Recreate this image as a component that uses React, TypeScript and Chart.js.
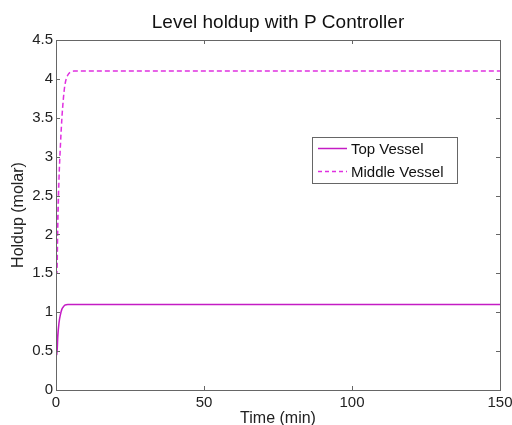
import React, { useEffect, useRef } from "react";
import { Chart, registerables } from "chart.js";
Chart.register(...registerables);

const titleText = "Level holdup with P Controller";
const xAxisLabel = "Time (min)";
const yAxisLabel = "Holdup (molar)";
const seriesNames = ["Top Vessel", "Middle Vessel"];

const topTimes = [0, 0.3, 0.6, 1, 1.5, 2, 2.5, 3, 4, 5, 7, 10, 150];
const topValues = [1.08, 0.45, 0.68, 0.86, 0.97, 1.04, 1.07, 1.09, 1.1, 1.1, 1.1, 1.1, 1.1];

const middleTimes = [0, 0.3, 0.6, 1, 1.5, 2, 2.5, 3, 4, 5, 6, 8, 150];
const middleValues = [4.0, 1.5, 2.1, 2.7, 3.15, 3.5, 3.75, 3.92, 4.05, 4.09, 4.1, 4.1, 4.1];

const xTicks = [0, 50, 100, 150];
const yTicks = [0, 0.5, 1, 1.5, 2, 2.5, 3, 3.5, 4, 4.5];

const topColor = "#c41cc4";
const middleColor = "#e030e0";
const fontFamily = "'Liberation Sans', Arial, sans-serif";

const framePlugin = {
  id: "frame",
  afterDraw(chart: any) {
    const { ctx, chartArea } = chart;
    const { left, right, top, bottom } = chartArea;
    const w = right - left;
    const h = bottom - top;
    ctx.save();
    // box
    ctx.strokeStyle = "#666";
    ctx.lineWidth = 1;
    ctx.strokeRect(left + 0.5, top + 0.5, w, h);
    // inward ticks
    const xs = chart.scales.x;
    const ys = chart.scales.y;
    ctx.beginPath();
    xTicks.forEach((v) => {
      const px = Math.round(xs.getPixelForValue(v)) + 0.5;
      ctx.moveTo(px, bottom);
      ctx.lineTo(px, bottom - 4);
      ctx.moveTo(px, top);
      ctx.lineTo(px, top + 4);
    });
    yTicks.forEach((v) => {
      const py = Math.round(ys.getPixelForValue(v)) + 0.5;
      ctx.moveTo(left, py);
      ctx.lineTo(left + 4, py);
      ctx.moveTo(right, py);
      ctx.lineTo(right - 4, py);
    });
    ctx.stroke();
    // title
    ctx.fillStyle = "#111";
    ctx.font = `19px ${fontFamily}`;
    ctx.textAlign = "center";
    ctx.textBaseline = "alphabetic";
    ctx.fillText(titleText, (left + right) / 2, 28);
    // axis titles
    ctx.fillStyle = "#222";
    ctx.font = `16px ${fontFamily}`;
    ctx.fillText(xAxisLabel, (left + right) / 2, 423);
    ctx.save();
    ctx.translate(23, (top + bottom) / 2);
    ctx.rotate(-Math.PI / 2);
    ctx.fillText(yAxisLabel, 0, 0);
    ctx.restore();
    // legend
    const bx = Math.round(left + w * 0.577);
    const by = Math.round(top + h * 0.277);
    const bw = Math.round(w * 0.327);
    const bh = Math.round(h * 0.131);
    ctx.fillStyle = "#fff";
    ctx.fillRect(bx, by, bw, bh);
    ctx.strokeStyle = "#666";
    ctx.strokeRect(bx + 0.5, by + 0.5, bw, bh);
    const rows = [
      { name: seriesNames[0], color: topColor, dash: [] as number[] },
      { name: seriesNames[1], color: middleColor, dash: [4, 3] },
    ];
    ctx.font = `15px ${fontFamily}`;
    ctx.textAlign = "left";
    ctx.textBaseline = "middle";
    rows.forEach((r, i) => {
      const cy = by + bh * (0.25 + i * 0.5);
      ctx.strokeStyle = r.color;
      ctx.lineWidth = 1.5;
      ctx.setLineDash(r.dash);
      ctx.beginPath();
      ctx.moveTo(bx + 6, cy);
      ctx.lineTo(bx + 35, cy);
      ctx.stroke();
      ctx.setLineDash([]);
      ctx.fillStyle = "#111";
      ctx.fillText(r.name, bx + 39, cy + 1);
    });
    ctx.restore();
  },
};

export default function App() {
  const ref = useRef<HTMLCanvasElement | null>(null);
  useEffect(() => {
    if (!ref.current) return;
    const chart = new Chart(ref.current, {
      type: "line",
      data: {
        datasets: [
          {
            label: seriesNames[0],
            data: topTimes.map((t, i) => ({ x: t, y: topValues[i] })),
            borderColor: topColor,
            borderWidth: 1.5,
            pointRadius: 0,
            cubicInterpolationMode: "monotone",
            fill: false,
          },
          {
            label: seriesNames[1],
            data: middleTimes.map((t, i) => ({ x: t, y: middleValues[i] })),
            borderColor: middleColor,
            borderWidth: 1.5,
            borderDash: [5, 3],
            pointRadius: 0,
            cubicInterpolationMode: "monotone",
            fill: false,
          },
        ],
      },
      options: {
        animation: false,
        responsive: false,
        maintainAspectRatio: false,
        layout: { padding: { top: 40, right: 12, left: 0, bottom: 0 } },
        plugins: { legend: { display: false }, title: { display: false }, tooltip: { enabled: false } },
        scales: {
          x: {
            type: "linear",
            min: 0,
            max: 150,
            afterBuildTicks: (s: any) => {
              s.ticks = xTicks.map((v) => ({ value: v }));
            },
            afterFit: (s: any) => {
              s.height = 35;
              s.paddingLeft = 0;
              s.paddingRight = 0;
            },
            grid: { display: false, drawTicks: false },
            border: { display: false },
            ticks: { color: "#222", font: { family: fontFamily, size: 15 }, padding: 4, maxRotation: 0 },
          },
          y: {
            type: "linear",
            min: 0,
            max: 4.5,
            afterBuildTicks: (s: any) => {
              s.ticks = yTicks.map((v) => ({ value: v }));
            },
            afterFit: (s: any) => {
              s.width = 56;
              s.paddingTop = 0;
              s.paddingBottom = 0;
            },
            grid: { display: false, drawTicks: false },
            border: { display: false },
            ticks: {
              color: "#222",
              font: { family: fontFamily, size: 15 },
              padding: 3,
              callback: (v: any) => String(v),
            },
          },
        },
      },
      plugins: [framePlugin],
    } as any);
    return () => chart.destroy();
  }, []);
  return (
    <div style={{ position: "fixed", left: 0, top: 0, width: 512, height: 425, background: "#fff" }}>
      <canvas ref={ref} width={512} height={425} style={{ width: 512, height: 425 }} />
    </div>
  );
}
